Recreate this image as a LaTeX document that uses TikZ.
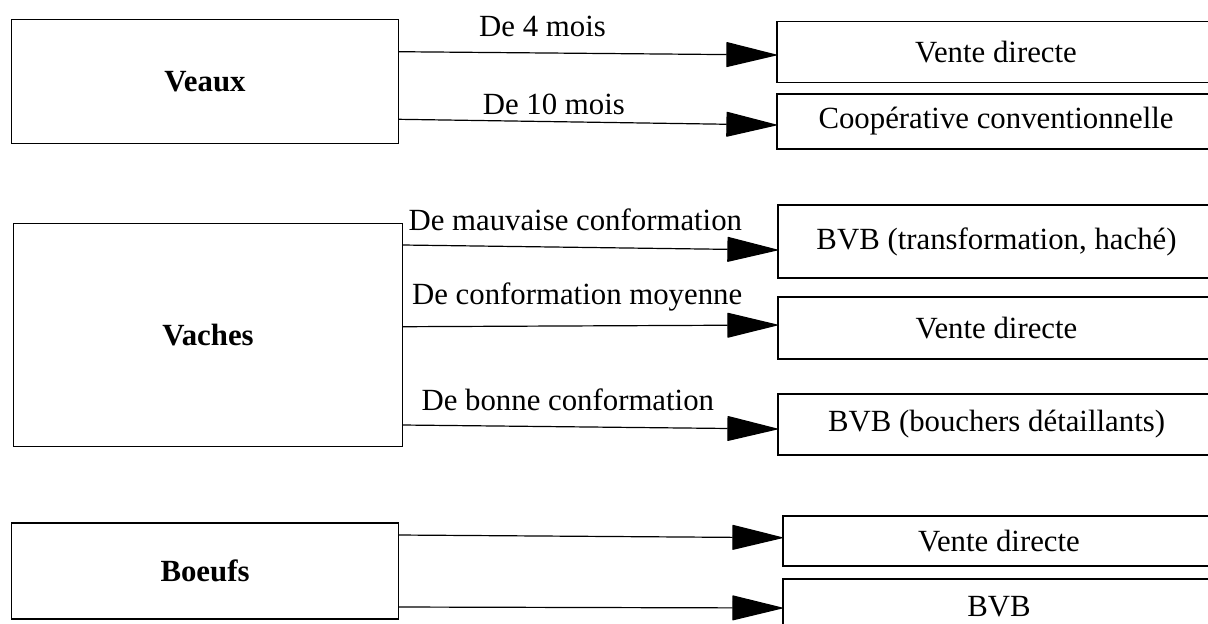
\documentclass[tikz,border=0pt]{standalone}
\usepackage{fontspec}
\setmainfont{Liberation Serif}
\usetikzlibrary{arrows.meta,positioning}

\begin{document}
\begin{tikzpicture}[x=0.5pt,y=-0.5pt,
        every node/.style={font=\fontsize{15.4}{18}\selectfont},
        box/.style={draw,line width=0.6pt,inner sep=0pt},
        edgelabel/.style={inner sep=0pt},
        flow/.style={-{Triangle[length=26pt,width=12.5pt,round]},line width=0.6pt}]
        \useasboundingbox (0,0) rectangle (1208,623);
        \clip (0,0) rectangle (1208,623);
        % categories d'animaux
        \node[box,minimum width=193.5pt,minimum height=62pt]    (veaux)  at (205,81.5)  {\textbf{Veaux}};
        \node[box,minimum width=194.5pt,minimum height=111.4pt] (vaches) at (208,334.7) {\textbf{Vaches}};
        \node[box,minimum width=193.5pt,minimum height=48pt]    (boeufs) at (205,571)   {\textbf{Boeufs}};
        % debouches (coupes a droite)
        \node[box,minimum width=219pt,minimum height=30.5pt]   (vd1)  at (996,52.2)    {Vente directe};
        \node[box,minimum width=219pt,minimum height=27.5pt]   (coop) at (996,121.5)   {Coopérative conventionnelle};
        \node[box,minimum width=218.5pt,minimum height=36.5pt] (bvbt) at (996.5,241.5) {BVB (transformation, haché)};
        \node[box,minimum width=218.5pt,minimum height=31pt]   (vd2)  at (996.5,328)   {Vente directe};
        \node[box,minimum width=218.5pt,minimum height=30.5pt] (bvbb) at (996.5,424.5) {BVB (bouchers détaillants)};
        \node[box,minimum width=216pt,minimum height=25pt]     (vd3)  at (999,541)     {Vente directe};
        \node[box,minimum width=216pt,minimum height=28pt]     (bvb)  at (999,607)     {BVB};
        % fleches et etiquettes
        \draw[flow] ([yshift=14.9pt]veaux.east) -- node[pos=0.38,above=8pt,edgelabel] {De 4 mois} ([yshift=-1.4pt]vd1.west);
        \draw[flow] ([yshift=-18.9pt]veaux.east) -- node[pos=0.41,above=3.3pt,edgelabel] {De 10 mois} ([yshift=-1.75pt]coop.west);
        \draw[flow] ([yshift=44.85pt]vaches.east) -- node[pos=0.46,above=7.8pt,edgelabel] {De mauvaise conformation} ([yshift=-4.25pt]bvbt.west);
        \draw[flow] ([yshift=4pt]vaches.east) -- node[pos=0.465,above=7.2pt,edgelabel] {De conformation moyenne} ([yshift=1.5pt]vd2.west);
        \draw[flow] ([yshift=-45.15pt]vaches.east) -- node[pos=0.44,above=7.6pt,edgelabel] {De bonne conformation} ([yshift=-2.25pt]bvbb.west);
        \draw[flow] ([yshift=18pt]boeufs.east) -- ([yshift=1.65pt]vd3.west);
        \draw[flow] ([yshift=-18pt]boeufs.east) -- ([yshift=-0.5pt]bvb.west);
\end{tikzpicture}
\end{document}
